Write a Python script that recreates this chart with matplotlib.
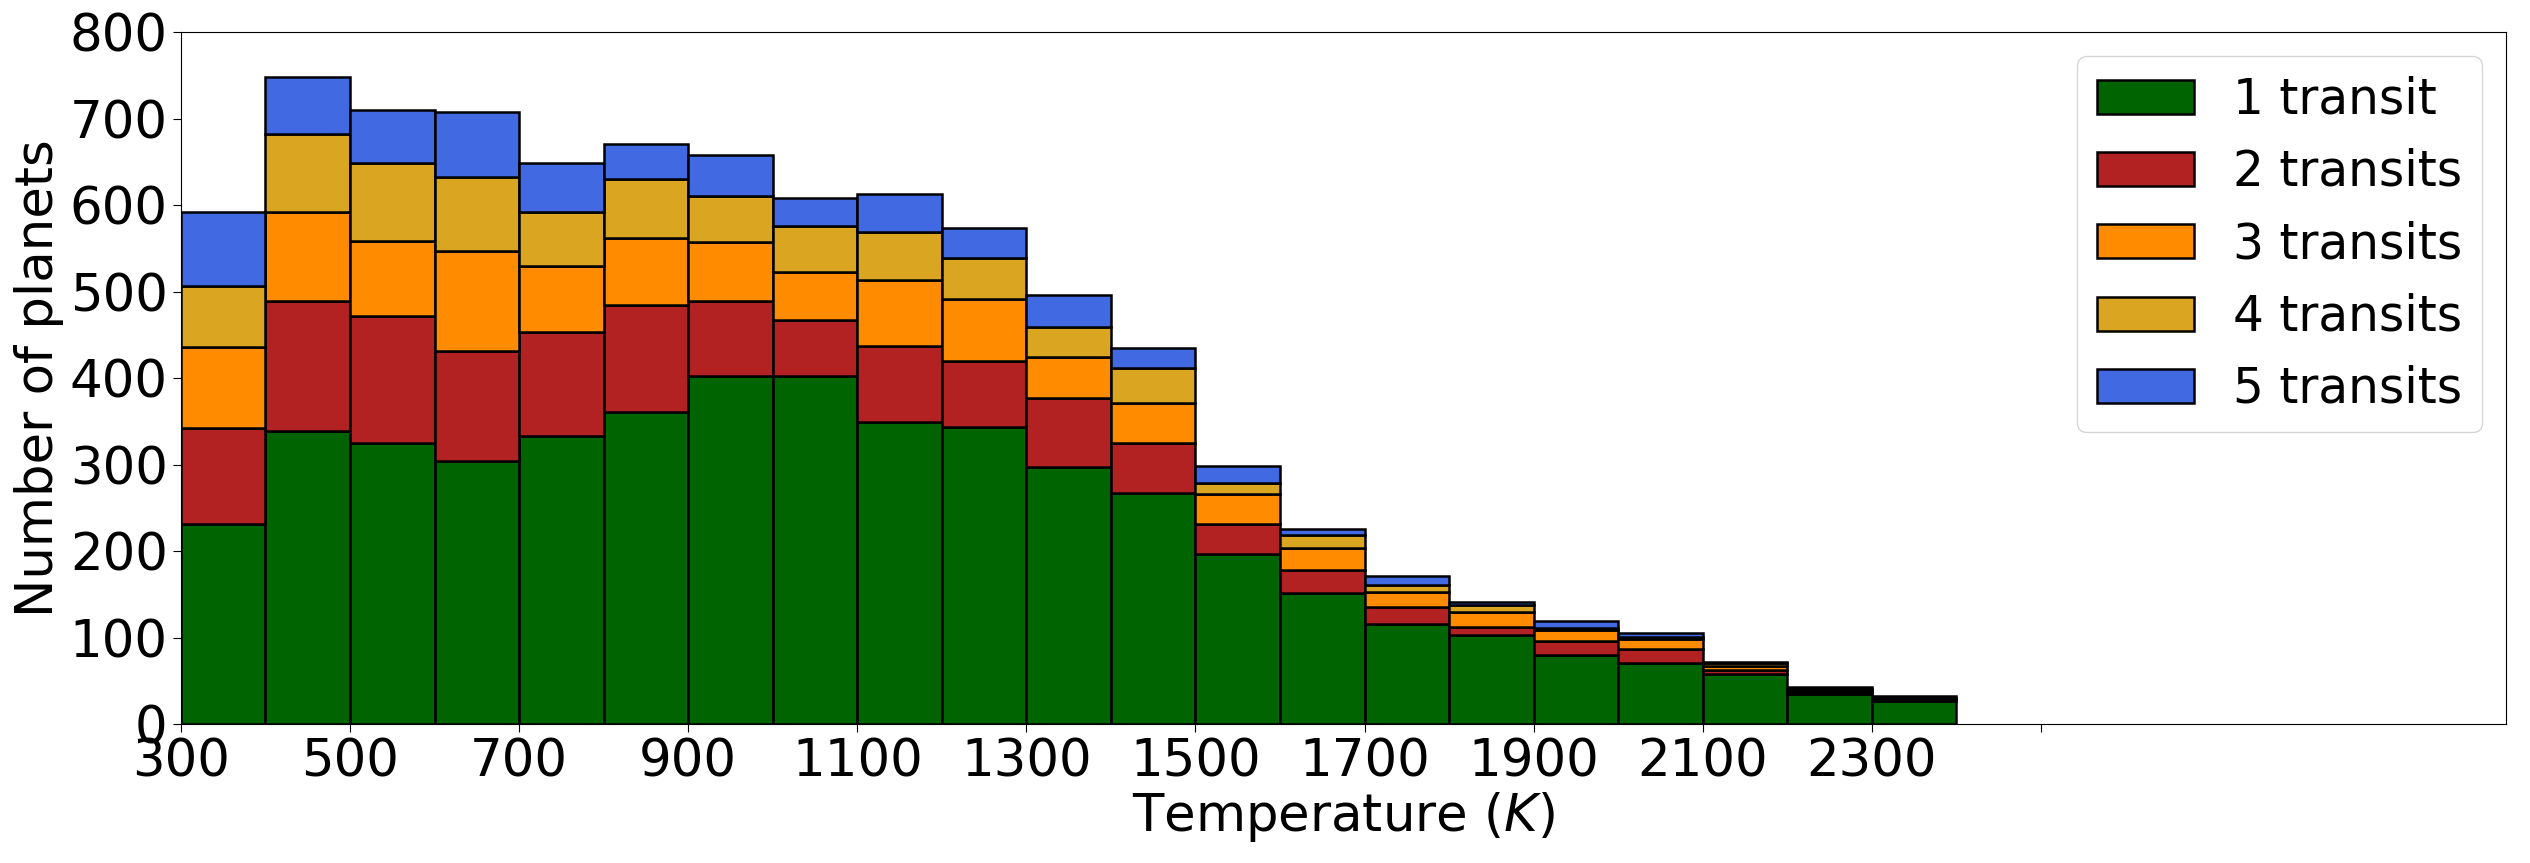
import numpy as np
import matplotlib
matplotlib.use('Agg')
import matplotlib.pyplot as plt

# bin left edges (K), width 100
bin_edges = np.arange(300, 2500, 100)

# counts per bin for each number of transits
one_transit = [232, 339, 325, 304, 333, 361, 402, 402, 349, 344, 297, 267, 197, 152, 116, 103, 80, 71, 58, 35, 27]
two_transits = [111, 150, 147, 127, 120, 124, 87, 65, 88, 76, 80, 58, 35, 27, 20, 10, 16, 16, 5, 2, 2]
three_transits = [93, 103, 86, 116, 77, 77, 68, 56, 76, 72, 47, 46, 34, 25, 17, 17, 13, 12, 5, 2, 1]
four_transits = [70, 90, 91, 86, 62, 68, 53, 53, 56, 47, 35, 41, 13, 15, 8, 8, 2, 2, 3, 2, 1]
five_transits = [86, 66, 61, 75, 57, 41, 48, 32, 44, 35, 37, 23, 20, 7, 11, 3, 8, 5, 1, 2, 2]

labels = ['1 transit', '2 transits', '3 transits', '4 transits', '5 transits']
colors = ['darkgreen', 'firebrick', 'darkorange', 'goldenrod', 'royalblue']

xtick_pos = np.arange(300, 2600, 200)
xtick_lab = [str(t) for t in xtick_pos[:-1]] + ['']
ytick_pos = np.arange(0, 900, 100)

fig = plt.figure(figsize=(25.3, 8.63), dpi=100)
ax = fig.add_axes([0.0715, 0.1605, 0.919, 0.8025])

centers = bin_edges[:-1] + 50
data = [one_transit, two_transits, three_transits, four_transits, five_transits]
ax.hist([centers] * 5, bins=bin_edges, weights=data, stacked=True,
        color=colors, edgecolor='black', linewidth=1.8, label=labels)

ax.set_xlim(300, 3050)
ax.set_ylim(0, 800)
ax.set_xticks(xtick_pos)
ax.set_xticklabels(xtick_lab)
ax.set_yticks(ytick_pos)
ax.tick_params(labelsize=37, length=6)
ax.set_xlabel('Temperature ($K$)', fontsize=37, labelpad=2)
ax.set_ylabel('Number of planets', fontsize=37, labelpad=4)
ax.legend(loc='upper right', fontsize=35)

fig.savefig('out.png', dpi=100)
